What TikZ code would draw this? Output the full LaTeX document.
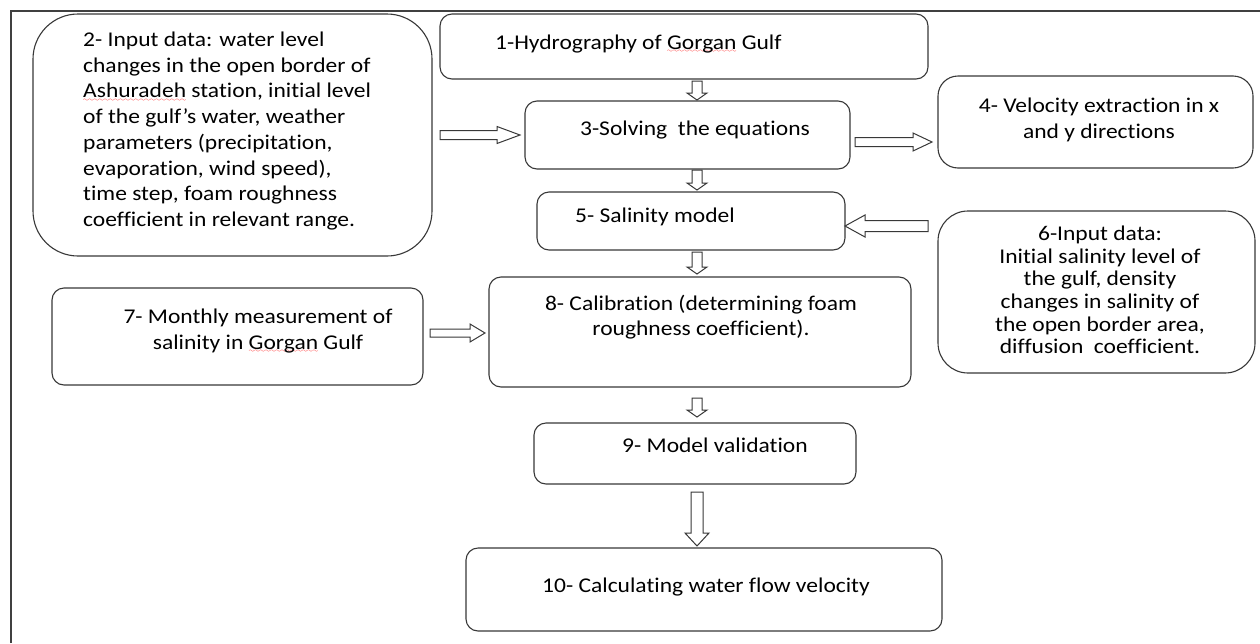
\documentclass[tikz,border=0pt]{standalone}
\usepackage{fontspec}
\setmainfont{Carlito}[FakeStretch=1.12, Ligatures=NoCommon]
\usetikzlibrary{calc}
\font\sqwave=lasy6
\newcommand\spellerr[1]{\setbox0\hbox{#1}\leavevmode\rlap{\lower3.5pt\hbox to\wd0{\color{red}\xleaders\hbox{\sqwave\char58}\hfil}}\box0\relax}
\begin{document}
\begin{tikzpicture}[x=1pt,y=-1pt,
  frame/.style={draw=black!75, line width=1.2pt},
  box/.style={draw=black!78, line width=1.1pt, rounded corners=12pt, anchor=north west, inner sep=0pt, outer sep=0pt},
  txt/.style={inner sep=0pt, font=\fontsize{21}{25.7}\selectfont, text=black},
  bx shaft/.store in=\bxShaft, bx head/.store in=\bxHead, bx len/.store in=\bxLen,
  bx gapa/.store in=\bxGapA, bx gapb/.store in=\bxGapB,
  bx shaft=5pt, bx head=10pt, bx len=7pt, bx gapa=2pt, bx gapb=2pt,
  blockarrow/.style={draw=black!78, line width=1pt, fill=white, to path={
    let \p1=($(\tikztostart)!\bxGapA!(\tikztotarget)$),
        \p2=($(\tikztotarget)!\bxGapB!(\tikztostart)$),
        \p3=($(\p2)!\bxLen!(\p1)$) in
    ($(\p1)!\bxShaft!90:(\p2)$) -- ($(\p3)!\bxShaft!-90:(\p1)$) -- ($(\p3)!\bxHead!-90:(\p1)$) -- (\p2)
    -- ($(\p3)!\bxHead!90:(\p1)$) -- ($(\p3)!\bxShaft!90:(\p1)$) -- ($(\p1)!\bxShaft!-90:(\p2)$) -- cycle}}
]
\useasboundingbox (0,0) rectangle (1260,643);
\fill[white] (0,0) rectangle (1260,643);
\draw[frame] (11,643) -- (11,11) -- (1260,11);

% boxes
\node[box, minimum width=488, minimum height=65] (b1) at (440,14) {};
\node[box, rounded corners=45pt, minimum width=399, minimum height=242] (b2) at (33,14) {};
\node[box, minimum width=325, minimum height=68] (b3) at (525,101) {};
\node[box, rounded corners=20pt, minimum width=315, minimum height=92] (b4) at (938,76) {};
\node[box, minimum width=308, minimum height=58] (b5) at (537,192) {};
\node[box, rounded corners=30pt, minimum width=317, minimum height=162] (b6) at (938,211) {};
\node[box, minimum width=371, minimum height=97] (b7) at (52,288) {};
\node[box, minimum width=422, minimum height=110] (b8) at (489,277) {};
\node[box, minimum width=322, minimum height=61] (b9) at (534,423) {};
\node[box, minimum width=476, minimum height=83] (b10) at (466,548) {};

% texts
\node[txt, anchor=west] (t1) at (495,44) {1-Hydrography of \spellerr{Gorgan} Gulf};
\node[txt, anchor=west, align=left] (t2) at (83,131) {2- Input data: water level\\changes in the open border of\\\spellerr{Ashuradeh} station, initial level\\of the gulf’s water, weather\\parameters (precipitation,\\evaporation, wind speed),\\time step, foam roughness\\coefficient in relevant range.};
\node[txt] (t3) at (695,130) {3-Solving\ \ the equations};
\node[txt, align=center] (t4) at (1099,120) {4- Velocity extraction in x\\and y directions};
\node[txt, anchor=west] (t5) at (575,217) {5- Salinity model};
\node[txt, align=center, font=\fontsize{21}{22.6}\selectfont] (t6) at (1100,290) {6-Input data:\\Initial salinity level of\\the gulf, density\\changes in salinity of\\the open border area,\\diffusion\ \ coefficient.};
\node[txt, align=center] (t7) at (258,331) {7- Monthly measurement of\\salinity in \spellerr{Gorgan} Gulf};
\node[txt, align=center] (t8) at (701,317) {8- Calibration (determining foam\\roughness coefficient).};
\node[txt, anchor=west] (t9) at (622,445) {9- Model validation};
\node[txt] (t10) at (706,587) {10- Calculating water flow velocity};

% arrow helper coordinates
\coordinate (ax) at (697,0);
\coordinate (y23) at (0,135);
\coordinate (y34) at (0,142);
\coordinate (y65) at (0,226);
\coordinate (y78) at (0,333);

\draw[blockarrow, bx gapa=2pt, bx gapb=1pt] (b1.south -| ax) to (b3.north -| ax);
\draw[blockarrow, bx gapa=1pt, bx gapb=2pt] (b3.south -| ax) to (b5.north -| ax);
\draw[blockarrow, bx gapa=2pt, bx gapb=3pt] (b5.south -| ax) to (b8.north -| ax);
\draw[blockarrow, bx gapa=11pt, bx gapb=6pt] (b8.south -| ax) to (b9.north -| ax);
\draw[blockarrow, bx shaft=6pt, bx head=12pt, bx len=13pt, bx gapa=8pt, bx gapb=2pt] (b9.south -| ax) to (b10.north -| ax);
\draw[blockarrow, bx shaft=4.5pt, bx head=8.5pt, bx len=23pt, bx gapa=8pt, bx gapb=5pt] (b2.east |- y23) to (b3.west |- y23);
\draw[blockarrow, bx shaft=4.5pt, bx head=9pt, bx len=19pt, bx gapa=5pt, bx gapb=6pt] (b3.east |- y34) to (b4.west |- y34);
\draw[blockarrow, bx shaft=5.5pt, bx head=11pt, bx len=20pt, bx gapa=10pt, bx gapb=0pt] (b6.west |- y65) to (b5.east |- y65);
\draw[blockarrow, bx shaft=4pt, bx head=9pt, bx len=15pt, bx gapa=7pt, bx gapb=4pt] (b7.east |- y78) to (b8.west |- y78);
\end{tikzpicture}
\end{document}
